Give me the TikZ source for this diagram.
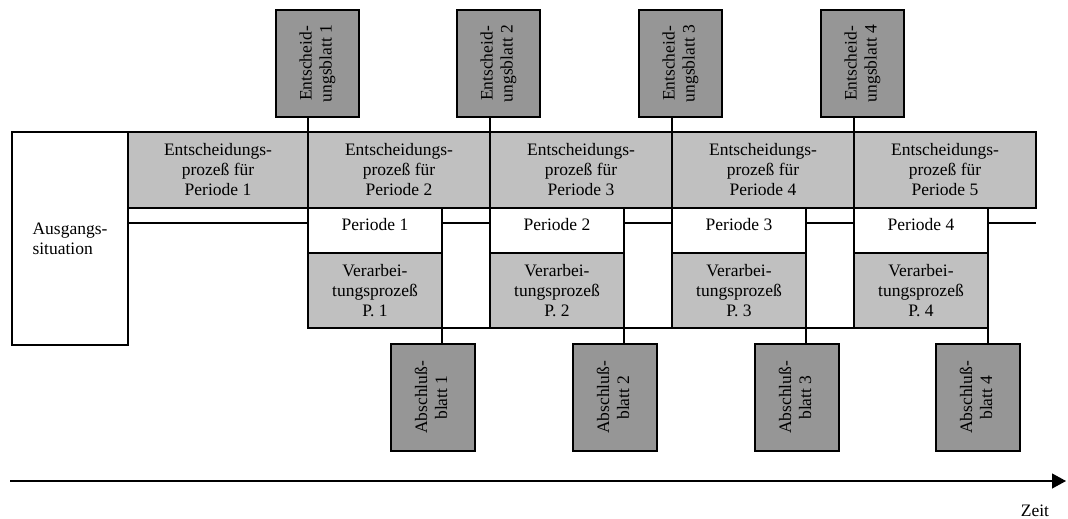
\documentclass[tikz,border=0pt]{standalone}
\usepackage{fontspec}
\setmainfont{Liberation Serif}
\usepackage{graphicx}
\usetikzlibrary{arrows.meta}
\definecolor{bandgray}{RGB}{192,192,192}
\definecolor{sheetgray}{RGB}{150,150,150}
% two-line text turned to read upwards
\newcommand{\uptext}[2]{\rotatebox{90}{\begin{tabular}{@{}c@{}}#1\\#2\end{tabular}}}
\begin{document}
\begin{tikzpicture}[x=1pt,y=-1pt,
  every node/.style={font=\fontsize{17.5}{20}\selectfont},
  every path/.style={line width=1.2pt},
  box/.style={draw, line width=1.2pt, inner sep=0pt, outer sep=0pt, align=center},
  planbox/.style={box, fill=bandgray, minimum width=182pt, minimum height=76pt},
  perbox/.style={box, fill=white, minimum width=134pt, minimum height=45pt,
                 text height=11pt, text depth=11pt},
  procbox/.style={box, fill=bandgray, minimum width=134pt, minimum height=75pt},
  sheet/.style={box, fill=sheetgray, minimum width=83pt, minimum height=107pt},
]
\useasboundingbox (0,0) rectangle (1068,519);

% starting situation
\node[box, fill=white, minimum width=116pt, minimum height=213pt, align=left]
  (aus) at (70,238.5) {Ausgangs-\\situation};

% decision processes (upper band)
\node[planbox, minimum width=180pt] (ep1) at (218,170) {Entscheidungs-\\prozeß für\\Periode 1};
\node[planbox] (ep2) at (399,170) {Entscheidungs-\\prozeß für\\Periode 2};
\node[planbox] (ep3) at (581,170) {Entscheidungs-\\prozeß für\\Periode 3};
\node[planbox] (ep4) at (763,170) {Entscheidungs-\\prozeß für\\Periode 4};
\node[planbox] (ep5) at (945,170) {Entscheidungs-\\prozeß für\\Periode 5};

% periods and processing
\foreach \i/\x in {1/308, 2/490, 3/672, 4/854} {
  \node[perbox] (p\i) at (\x+67,230.5) {Periode \i};
  \node[procbox] (vp\i) at (\x+67,290.5) {Verarbei-\\tungsprozeß\\P. \i};
}

% decision sheets on top
\node[sheet] (eb1) at (317.5,63.5) {\uptext{Entscheid-}{ungsblatt 1}};
\node[sheet] (eb2) at (498.5,63.5) {\uptext{Entscheid-}{ungsblatt 2}};
\node[sheet] (eb3) at (680.5,63.5) {\uptext{Entscheid-}{ungsblatt 3}};
\node[sheet] (eb4) at (862.5,63.5) {\uptext{Entscheid-}{ungsblatt 4}};

% closing sheets below
\node[sheet, minimum width=84pt] (ab1) at (433,397.5) {\uptext{Abschluß-}{blatt 1}};
\node[sheet, minimum width=84pt] (ab2) at (615,397.5) {\uptext{Abschluß-}{blatt 2}};
\node[sheet, minimum width=84pt] (ab3) at (797,397.5) {\uptext{Abschluß-}{blatt 3}};
\node[sheet, minimum width=84pt] (ab4) at (978,397.5) {\uptext{Abschluß-}{blatt 4}};

% sheet connectors
\draw (eb1.south -| ep2.north west) -- (ep2.north west);
\draw (eb2.south -| ep3.north west) -- (ep3.north west);
\draw (eb3.south -| ep4.north west) -- (ep4.north west);
\draw (eb4.south -| ep5.north west) -- (ep5.north west);
\foreach \i in {1,...,4}
  \draw (vp\i.south east) -- (vp\i.south east |- ab\i.north);

% time lines between the period boxes
\coordinate (mid) at (0,223);
\draw (ep1.south west |- mid) -- (p1.west |- mid);
\draw (p1.east |- mid) -- (p2.west |- mid);
\draw (p2.east |- mid) -- (p3.west |- mid);
\draw (p3.east |- mid) -- (p4.west |- mid);
\draw (p4.east |- mid) -- (ep5.south east |- mid);
\draw (vp1.south east) -- (vp2.south west);
\draw (vp2.south east) -- (vp3.south west);
\draw (vp3.south east) -- (vp4.south west);

% time axis
\coordinate (t0) at (10,481);
\coordinate (t1) at (1066,481);
\draw[-{Triangle[length=14pt,width=15pt]}] (t0) -- (t1);
\node[anchor=base] (zeit) at (1035,516) {Zeit};
\end{tikzpicture}
\end{document}
